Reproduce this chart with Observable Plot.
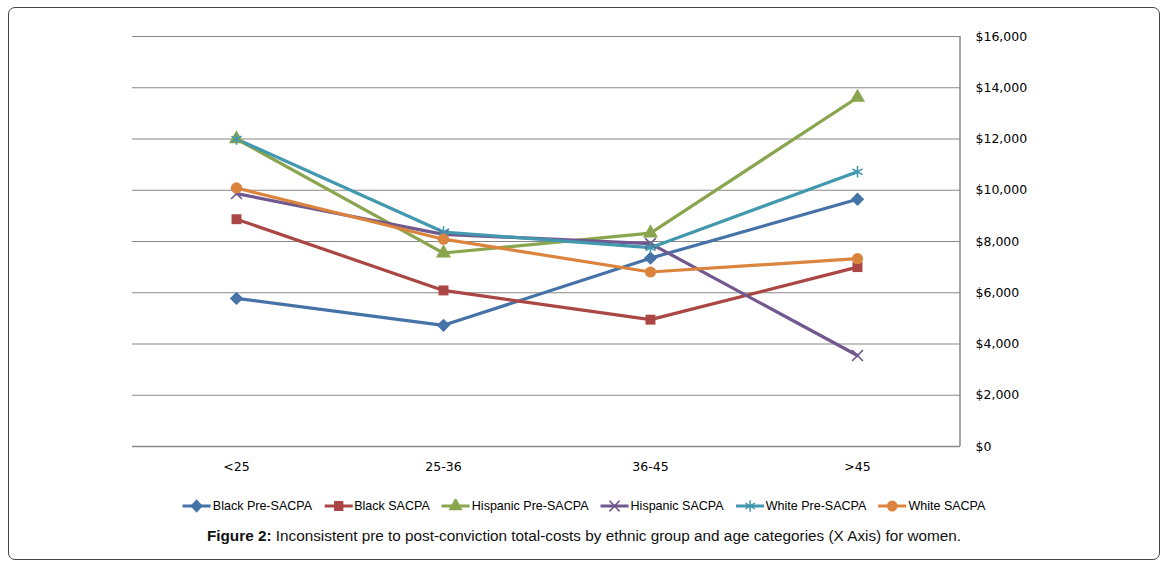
<!DOCTYPE html>
<html><head><meta charset="utf-8">
<script src="https://cdn.jsdelivr.net/npm/d3@7"></script>
<script src="https://cdn.jsdelivr.net/npm/@observablehq/plot@0.6"></script>
<style>
body{margin:0;background:#fff;width:1168px;height:567px;overflow:hidden;}
#frame{position:absolute;left:8px;top:7px;width:1152px;height:553px;border:1px solid #444;border-radius:7px;box-sizing:border-box;}
#chart{position:absolute;left:0;top:0;}
#legend{position:absolute;top:498px;left:0;width:1168px;display:flex;justify-content:center;font-family:"Liberation Sans",Arial,sans-serif;font-size:13.4px;color:#000;transform:scaleX(0.935);transform-origin:579px 0;}
.item{display:flex;align-items:center;margin:0 6px;}
.item svg{margin-right:1px;}
#caption{position:absolute;top:527px;left:0;width:1168px;text-align:center;font-family:"Liberation Sans",Arial,sans-serif;font-size:15.3px;color:#111;}
</style></head>
<body>
<div id="frame"></div>
<div id="chart"></div>
<div id="legend"></div>
<div id="caption"><b>Figure 2:</b> Inconsistent pre to post-conviction total-costs by ethnic group and age categories (X Axis) for women.</div>
<script>
const categories = ["<25", "25-36", "36-45", ">45"];
const seriesNames = ["Black Pre-SACPA", "Black SACPA", "Hispanic Pre-SACPA", "Hispanic SACPA", "White Pre-SACPA", "White SACPA"];
const blackPre = [5780, 4730, 7350, 9650];
const blackSacpa = [8870, 6090, 4950, 7000];
const hispanicPre = [12000, 7550, 8330, 13620];
const hispanicSacpa = [9870, 8280, 7920, 3550];
const whitePre = [12000, 8370, 7760, 10720];
const whiteSacpa = [10090, 8090, 6810, 7330];
const yTicks = [0, 2000, 4000, 6000, 8000, 10000, 12000, 14000, 16000];

const colors = ["#4572A7", "#AA4643", "#89A54E", "#71588F", "#4198AF", "#DB843D"];
const symbols = ["diamond2", "square", "triangle", "times", "asterisk", "circle"];
const radii = [6, 5.6, 5.6, 5, 5.5, 5.6];
const stroked = [false, false, false, true, true, false];
const values = [blackPre, blackSacpa, hispanicPre, hispanicSacpa, whitePre, whiteSacpa];

const data = [];
seriesNames.forEach((s, i) => values[i].forEach((v, j) => data.push({series: s, idx: i, cat: categories[j], value: v})));

const marks = [
  Plot.gridY(yTicks, {stroke: "#878787", strokeOpacity: 1, strokeWidth: 1.2}),
  Plot.ruleY([0], {stroke: "#878787", strokeWidth: 1.5}),
  Plot.axisY(yTicks, {anchor: "right", label: null, tickSize: 0, tickPadding: 15, tickFormat: d => "$" + d3.format(",")(d), fontSize: 12.5, fontFamily: "DejaVu Sans, Verdana, sans-serif", fill: "#000"}),
  Plot.axisX({anchor: "bottom", label: null, tickSize: 0, tickPadding: 16, fontSize: 12.5, fontFamily: "DejaVu Sans, Verdana, sans-serif", fill: "#000"})
];

seriesNames.forEach((s, i) => {
  const d = data.filter(r => r.idx === i);
  marks.push(Plot.lineY(d, {x: "cat", y: "value", stroke: colors[i], strokeWidth: 3.2, strokeLinejoin: "round"}));
});
seriesNames.forEach((s, i) => {
  const d = data.filter(r => r.idx === i);
  if (stroked[i]) {
    marks.push(Plot.dot(d, {x: "cat", y: "value", symbol: symbols[i], r: radii[i], stroke: colors[i], strokeWidth: 1.6, fill: "none"}));
  } else {
    marks.push(Plot.dot(d, {x: "cat", y: "value", symbol: symbols[i], r: radii[i], fill: colors[i], stroke: "none"}));
  }
});

const chart = Plot.plot({
  width: 1168, height: 480,
  marginTop: 36, marginBottom: 34, marginLeft: 132, marginRight: 208,
  x: {type: "point", domain: categories, padding: 0.5, label: null},
  y: {domain: [0, 16000], label: null},
  style: {background: "transparent"},
  marks
});
const svg = d3.select(chart);
svg.append("line").attr("x1", 960).attr("x2", 960).attr("y1", 36).attr("y2", 446).attr("stroke", "#878787").attr("stroke-width", 1.5);
document.getElementById("chart").appendChild(chart);

const legend = d3.select("#legend");
const symMap = {diamond2: d3.symbolDiamond2, square: d3.symbolSquare, triangle: d3.symbolTriangle, times: d3.symbolTimes, asterisk: d3.symbolAsterisk, circle: d3.symbolCircle};
seriesNames.forEach((s, i) => {
  const it = legend.append("div").attr("class", "item");
  const sv = it.append("svg").attr("width", 32).attr("height", 14);
  sv.append("line").attr("x1", 1).attr("x2", 31).attr("y1", 7).attr("y2", 7).attr("stroke", colors[i]).attr("stroke-width", 3.2);
  const p = d3.symbol(symMap[symbols[i]], Math.PI * radii[i] * radii[i])();
  const path = sv.append("path").attr("d", p).attr("transform", "translate(16,7)");
  if (stroked[i]) path.attr("fill", "none").attr("stroke", colors[i]).attr("stroke-width", 1.6);
  else path.attr("fill", colors[i]);
  it.append("span").text(s);
});
</script>
</body></html>
